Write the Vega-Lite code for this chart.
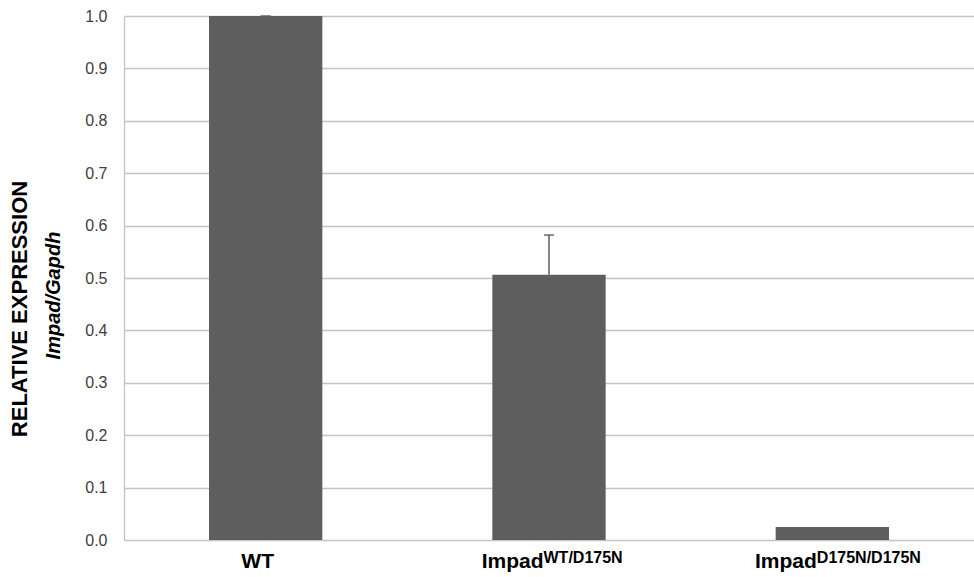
{
  "$schema": "https://vega.github.io/schema/vega-lite/v6.json",
  "width": 850,
  "height": 524,
  "autosize": {"type": "none"},
  "padding": {"left": 124, "top": 16, "right": 0, "bottom": 37},
  "background": "white",
  "config": {"view": {"stroke": null}, "font": "Liberation Sans"},
  "title": {
    "text": "RELATIVE EXPRESSION",
    "orient": "left",
    "anchor": "middle",
    "font": "Liberation Sans",
    "fontSize": 22,
    "fontWeight": "bold",
    "color": "#000000",
    "offset": 12,
    "dx": -31
  },
  "datasets": {
    "bars": [
      {"genotype": "WT", "expression": 1.0, "upper": 1.0},
      {"genotype": "Impad WT/D175N", "expression": 0.506, "upper": 0.582},
      {"genotype": "Impad D175N/D175N", "expression": 0.025, "upper": null}
    ],
    "labels": [
      {"genotype": "WT", "base": "WT", "sup": ""},
      {"genotype": "Impad WT/D175N", "base": "Impad", "sup": "WT/D175N"},
      {"genotype": "Impad D175N/D175N", "base": "Impad", "sup": "D175N/D175N"}
    ]
  },
  "layer": [
    {
      "data": {"name": "bars"},
      "mark": {"type": "bar", "color": "#5e5e5e"},
      "encoding": {
        "x": {
          "field": "genotype",
          "type": "nominal",
          "sort": null,
          "scale": {"domain": ["WT", "Impad WT/D175N", "Impad D175N/D175N"], "paddingInner": 0.6, "paddingOuter": 0.3},
          "axis": {"labels": false, "ticks": false, "domain": false, "title": null}
        },
        "y": {
          "field": "expression",
          "type": "quantitative",
          "scale": {"domain": [0, 1], "nice": false},
          "axis": {
            "values": [0, 0.1, 0.2, 0.3, 0.4, 0.5, 0.6, 0.7, 0.8, 0.9, 1.0],
            "format": ".1f",
            "grid": true,
            "gridColor": "#c4c4c4",
            "gridWidth": 1.3,
            "domainColor": "#c4c4c4",
            "domainWidth": 1.3,
            "ticks": false,
            "labelPadding": 17,
            "labelFont": "Liberation Sans",
            "labelFontSize": 16,
            "labelColor": "#404040",
            "title": "Impad/Gapdh",
            "titleFont": "Liberation Sans",
            "titleFontSize": 20,
            "titleFontWeight": "bold",
            "titleFontStyle": "italic",
            "titleColor": "#000000",
            "titlePadding": 21,
            "titleY": 279
          }
        }
      }
    },
    {
      "data": {"name": "bars"},
      "transform": [{"filter": "isValid(datum.upper)"}],
      "mark": {"type": "rule", "color": "#5e5e5e", "strokeWidth": 1.5},
      "encoding": {
        "x": {"field": "genotype", "type": "nominal"},
        "y": {"field": "expression", "type": "quantitative"},
        "y2": {"field": "upper"}
      }
    },
    {
      "data": {"name": "bars"},
      "transform": [{"filter": "isValid(datum.upper)"}],
      "mark": {"type": "tick", "color": "#5e5e5e", "size": 10, "thickness": 2},
      "encoding": {
        "x": {"field": "genotype", "type": "nominal"},
        "y": {"field": "upper", "type": "quantitative"}
      }
    },
    {
      "data": {"name": "labels"},
      "transform": [{"filter": "datum.genotype === 'WT'"}],
      "mark": {"type": "text", "align": "center", "baseline": "alphabetic", "dx": -8, "dy": 28, "fontSize": 21, "fontWeight": "bold", "color": "#000000"},
      "encoding": {
        "x": {"field": "genotype", "type": "nominal"},
        "y": {"datum": 0},
        "text": {"field": "base"}
      }
    },
    {
      "data": {"name": "labels"},
      "transform": [{"filter": "datum.genotype === 'Impad WT/D175N'"}],
      "mark": {"type": "text", "align": "right", "baseline": "alphabetic", "dx": -5.5, "dy": 28, "fontSize": 21, "fontWeight": "bold", "color": "#000000"},
      "encoding": {
        "x": {"field": "genotype", "type": "nominal"},
        "y": {"datum": 0},
        "text": {"field": "base"}
      }
    },
    {
      "data": {"name": "labels"},
      "transform": [{"filter": "datum.genotype === 'Impad WT/D175N'"}],
      "mark": {"type": "text", "align": "left", "baseline": "alphabetic", "dx": -5.5, "dy": 23, "fontSize": 16, "fontWeight": "bold", "color": "#000000"},
      "encoding": {
        "x": {"field": "genotype", "type": "nominal"},
        "y": {"datum": 0},
        "text": {"field": "sup"}
      }
    },
    {
      "data": {"name": "labels"},
      "transform": [{"filter": "datum.genotype === 'Impad D175N/D175N'"}],
      "mark": {"type": "text", "align": "right", "baseline": "alphabetic", "dx": -15.5, "dy": 28, "fontSize": 21, "fontWeight": "bold", "color": "#000000"},
      "encoding": {
        "x": {"field": "genotype", "type": "nominal"},
        "y": {"datum": 0},
        "text": {"field": "base"}
      }
    },
    {
      "data": {"name": "labels"},
      "transform": [{"filter": "datum.genotype === 'Impad D175N/D175N'"}],
      "mark": {"type": "text", "align": "left", "baseline": "alphabetic", "dx": -15.5, "dy": 23, "fontSize": 16, "fontWeight": "bold", "color": "#000000"},
      "encoding": {
        "x": {"field": "genotype", "type": "nominal"},
        "y": {"datum": 0},
        "text": {"field": "sup"}
      }
    }
  ]
}
